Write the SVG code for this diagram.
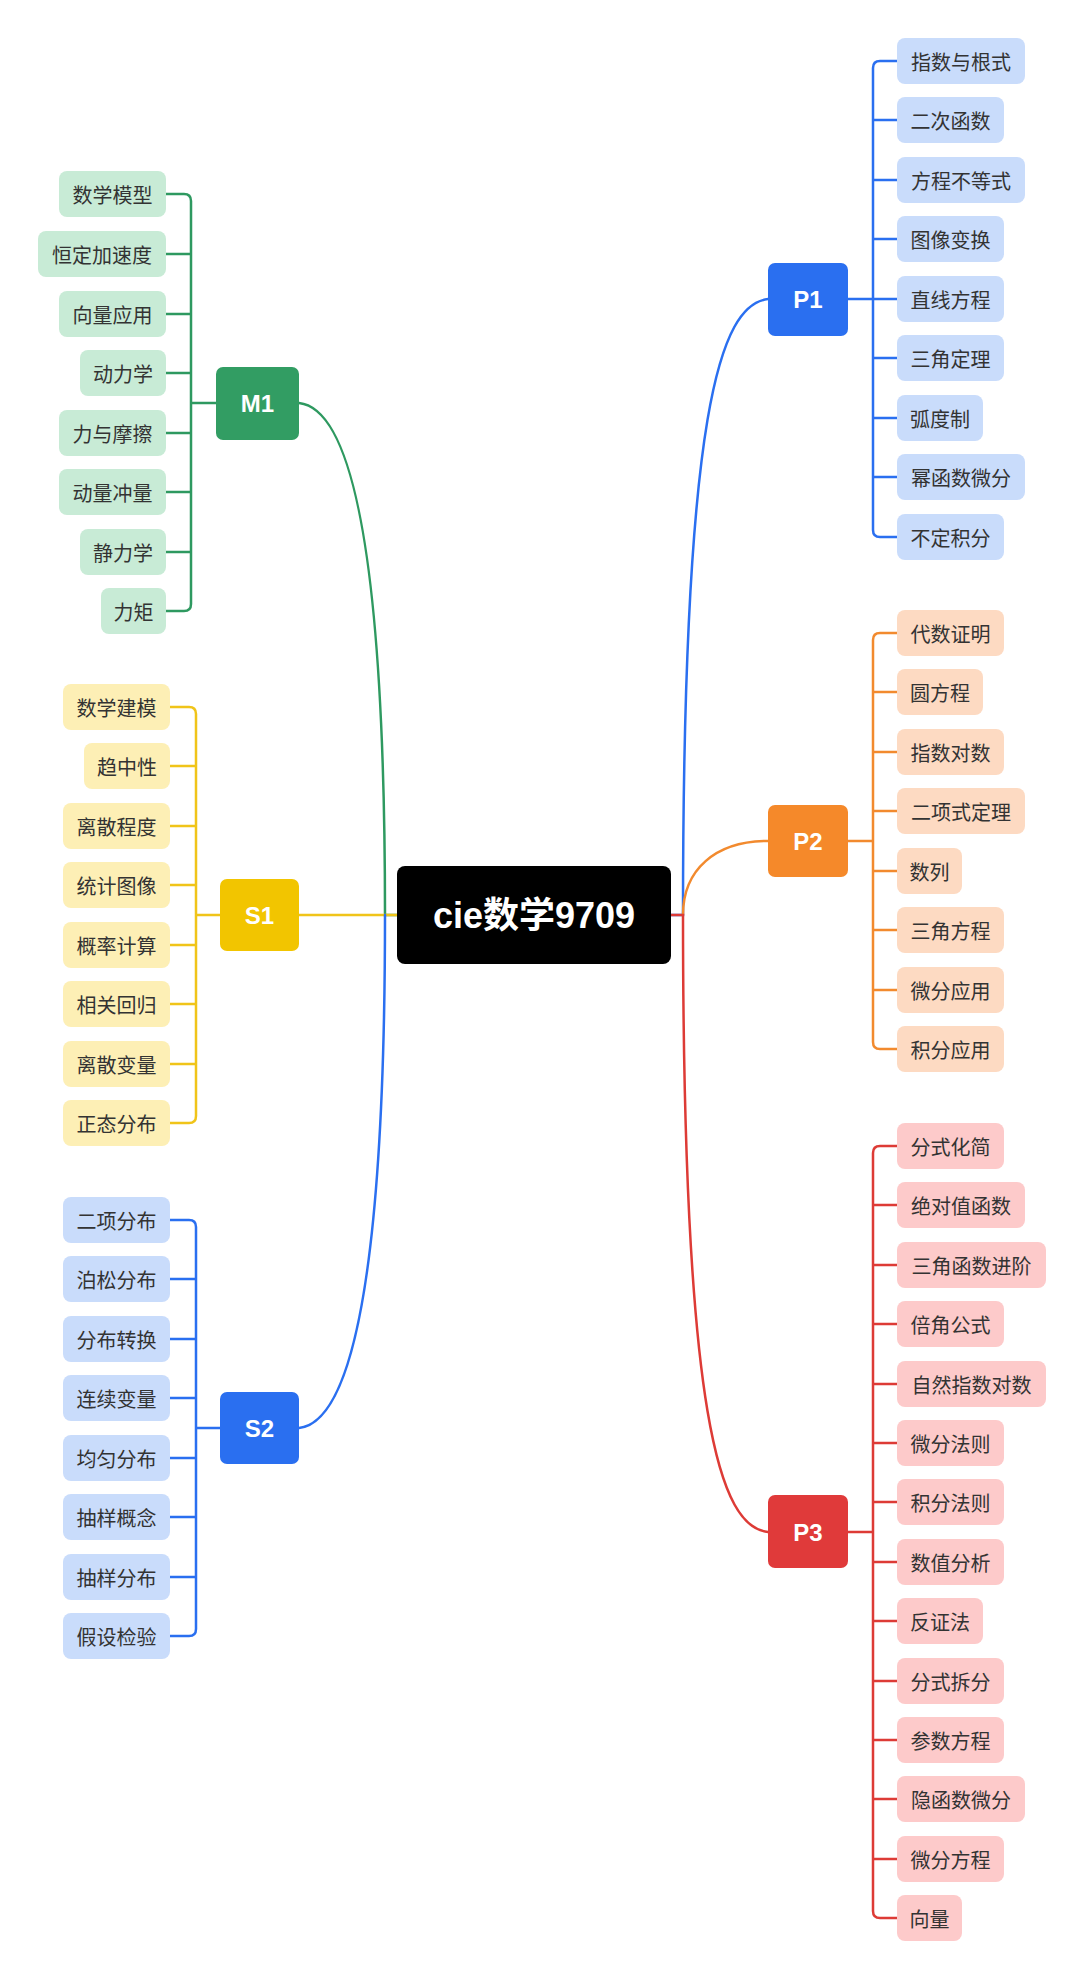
<svg xmlns="http://www.w3.org/2000/svg" width="1080" height="1971" viewBox="0 0 1080 1971">
<style>
.t{font-family:"Noto Sans CJK SC","Noto Sans",sans-serif;font-size:20px;fill:#333;text-anchor:middle;dominant-baseline:central}
.h{font-family:"Liberation Sans","Noto Sans CJK SC",sans-serif;font-size:24px;font-weight:bold;fill:#fff;text-anchor:middle;dominant-baseline:central}
.c{fill:none;stroke-width:2.5;stroke-linecap:round}
.g{stroke:#2e9960}.y{stroke:#f0c419}.b{stroke:#2a6ff0}.o{stroke:#f28a2e}.r{stroke:#dd3b36}
.gf{fill:#c8ebd6}.yf{fill:#fdefb5}.bf{fill:#c9dcfb}.of{fill:#fddac2}.rf{fill:#fdcaca}
</style>
<rect width="1080" height="1971" fill="#fff"/>
<g id="connectors">
<path class="c g" d="M397 915 H385 C385 520 345 408 299 403"/>
<path class="c y" d="M299 915 H397"/>
<path class="c b" d="M385 915 C385 1310 345 1423 299 1428"/>
<path class="c b" d="M671 915 H683 C683 410 720 305 768 299"/>
<path class="c o" d="M683 915 C683 870 715 841 768 841"/>
<path class="c r" d="M671 915 H683 C683 1420 720 1527 768 1532"/>
<path class="c g" d="M216 403 H191 M166 194 H184 Q191 194 191 201 V604 Q191 611 184 611 H166 M166 254 H191 M166 314 H191 M166 373 H191 M166 433 H191 M166 492 H191 M166 552 H191"/>
<path class="c y" d="M220 915 H196 M170 707 H189 Q196 707 196 714 V1116 Q196 1123 189 1123 H170 M170 766 H196 M170 826 H196 M170 885 H196 M170 945 H196 M170 1004 H196 M170 1064 H196"/>
<path class="c b" d="M220 1428 H196 M170 1220 H189 Q196 1220 196 1227 V1629 Q196 1636 189 1636 H170 M170 1279 H196 M170 1339 H196 M170 1398 H196 M170 1458 H196 M170 1517 H196 M170 1577 H196"/>
<path class="c b" d="M848 299 H873 M897 61 H880 Q873 61 873 68 V530 Q873 537 880 537 H897 M897 120 H873 M897 180 H873 M897 239 H873 M897 299 H873 M897 358 H873 M897 418 H873 M897 477 H873"/>
<path class="c o" d="M848 841 H873 M897 633 H880 Q873 633 873 640 V1042 Q873 1049 880 1049 H897 M897 692 H873 M897 752 H873 M897 811 H873 M897 871 H873 M897 930 H873 M897 990 H873"/>
<path class="c r" d="M848 1532 H873 M897 1146 H880 Q873 1146 873 1153 V1911 Q873 1918 880 1918 H897 M897 1205 H873 M897 1265 H873 M897 1324 H873 M897 1384 H873 M897 1443 H873 M897 1502 H873 M897 1562 H873 M897 1621 H873 M897 1681 H873 M897 1740 H873 M897 1799 H873 M897 1859 H873"/>
</g>
<g id="root"><rect x="397" y="866" width="274" height="98" rx="8" fill="#000"/><text class="h" x="534" y="915" style="font-size:36px;font-family:'Liberation Sans','Noto Sans CJK SC',sans-serif">cie数学9709</text></g>
<g id="M1"><rect x="216" y="367" width="83" height="73" rx="7" fill="#329d63"/><text class="h" x="257.5" y="403">M1</text></g>
<g id="S1"><rect x="220" y="879" width="79" height="72" rx="7" fill="#f2c500"/><text class="h" x="259.5" y="915">S1</text></g>
<g id="S2"><rect x="220" y="1392" width="79" height="72" rx="7" fill="#2a6ff0"/><text class="h" x="259.5" y="1428">S2</text></g>
<g id="P1"><rect x="768" y="263" width="80" height="73" rx="7" fill="#2a6ff0"/><text class="h" x="808" y="299">P1</text></g>
<g id="P2"><rect x="768" y="805" width="80" height="72" rx="7" fill="#f5892a"/><text class="h" x="808" y="841">P2</text></g>
<g id="P3"><rect x="768" y="1495" width="80" height="73" rx="7" fill="#e03a3a"/><text class="h" x="808" y="1532">P3</text></g>
<g id="m1c">
<g id="m1-1"><rect class="gf" x="59" y="171" width="107" height="46" rx="8"/><text class="t" x="112.5" y="194">数学模型</text></g>
<g id="m1-2"><rect class="gf" x="38" y="231" width="128" height="46" rx="8"/><text class="t" x="102" y="254">恒定加速度</text></g>
<g id="m1-3"><rect class="gf" x="59" y="291" width="107" height="46" rx="8"/><text class="t" x="112.5" y="314">向量应用</text></g>
<g id="m1-4"><rect class="gf" x="80" y="350" width="86" height="46" rx="8"/><text class="t" x="123" y="373">动力学</text></g>
<g id="m1-5"><rect class="gf" x="59" y="410" width="107" height="46" rx="8"/><text class="t" x="112.5" y="433">力与摩擦</text></g>
<g id="m1-6"><rect class="gf" x="59" y="469" width="107" height="46" rx="8"/><text class="t" x="112.5" y="492">动量冲量</text></g>
<g id="m1-7"><rect class="gf" x="80" y="529" width="86" height="46" rx="8"/><text class="t" x="123" y="552">静力学</text></g>
<g id="m1-8"><rect class="gf" x="101" y="588" width="65" height="46" rx="8"/><text class="t" x="133.5" y="611">力矩</text></g>
</g>
<g id="s1c">
<g id="s1-1"><rect class="yf" x="63" y="684" width="107" height="46" rx="8"/><text class="t" x="116.5" y="707">数学建模</text></g>
<g id="s1-2"><rect class="yf" x="84" y="743" width="86" height="46" rx="8"/><text class="t" x="127" y="766">趋中性</text></g>
<g id="s1-3"><rect class="yf" x="63" y="803" width="107" height="46" rx="8"/><text class="t" x="116.5" y="826">离散程度</text></g>
<g id="s1-4"><rect class="yf" x="63" y="862" width="107" height="46" rx="8"/><text class="t" x="116.5" y="885">统计图像</text></g>
<g id="s1-5"><rect class="yf" x="63" y="922" width="107" height="46" rx="8"/><text class="t" x="116.5" y="945">概率计算</text></g>
<g id="s1-6"><rect class="yf" x="63" y="981" width="107" height="46" rx="8"/><text class="t" x="116.5" y="1004">相关回归</text></g>
<g id="s1-7"><rect class="yf" x="63" y="1041" width="107" height="46" rx="8"/><text class="t" x="116.5" y="1064">离散变量</text></g>
<g id="s1-8"><rect class="yf" x="63" y="1100" width="107" height="46" rx="8"/><text class="t" x="116.5" y="1123">正态分布</text></g>
</g>
<g id="s2c">
<g id="s2-1"><rect class="bf" x="63" y="1197" width="107" height="46" rx="8"/><text class="t" x="116.5" y="1220">二项分布</text></g>
<g id="s2-2"><rect class="bf" x="63" y="1256" width="107" height="46" rx="8"/><text class="t" x="116.5" y="1279">泊松分布</text></g>
<g id="s2-3"><rect class="bf" x="63" y="1316" width="107" height="46" rx="8"/><text class="t" x="116.5" y="1339">分布转换</text></g>
<g id="s2-4"><rect class="bf" x="63" y="1375" width="107" height="46" rx="8"/><text class="t" x="116.5" y="1398">连续变量</text></g>
<g id="s2-5"><rect class="bf" x="63" y="1435" width="107" height="46" rx="8"/><text class="t" x="116.5" y="1458">均匀分布</text></g>
<g id="s2-6"><rect class="bf" x="63" y="1494" width="107" height="46" rx="8"/><text class="t" x="116.5" y="1517">抽样概念</text></g>
<g id="s2-7"><rect class="bf" x="63" y="1554" width="107" height="46" rx="8"/><text class="t" x="116.5" y="1577">抽样分布</text></g>
<g id="s2-8"><rect class="bf" x="63" y="1613" width="107" height="46" rx="8"/><text class="t" x="116.5" y="1636">假设检验</text></g>
</g>
<g id="p1c">
<g id="p1-1"><rect class="bf" x="897" y="38" width="128" height="46" rx="8"/><text class="t" x="961" y="61">指数与根式</text></g>
<g id="p1-2"><rect class="bf" x="897" y="97" width="107" height="46" rx="8"/><text class="t" x="950.5" y="120">二次函数</text></g>
<g id="p1-3"><rect class="bf" x="897" y="157" width="128" height="46" rx="8"/><text class="t" x="961" y="180">方程不等式</text></g>
<g id="p1-4"><rect class="bf" x="897" y="216" width="107" height="46" rx="8"/><text class="t" x="950.5" y="239">图像变换</text></g>
<g id="p1-5"><rect class="bf" x="897" y="276" width="107" height="46" rx="8"/><text class="t" x="950.5" y="299">直线方程</text></g>
<g id="p1-6"><rect class="bf" x="897" y="335" width="107" height="46" rx="8"/><text class="t" x="950.5" y="358">三角定理</text></g>
<g id="p1-7"><rect class="bf" x="897" y="395" width="86" height="46" rx="8"/><text class="t" x="940" y="418">弧度制</text></g>
<g id="p1-8"><rect class="bf" x="897" y="454" width="128" height="46" rx="8"/><text class="t" x="961" y="477">幂函数微分</text></g>
<g id="p1-9"><rect class="bf" x="897" y="514" width="107" height="46" rx="8"/><text class="t" x="950.5" y="537">不定积分</text></g>
</g>
<g id="p2c">
<g id="p2-1"><rect class="of" x="897" y="610" width="107" height="46" rx="8"/><text class="t" x="950.5" y="633">代数证明</text></g>
<g id="p2-2"><rect class="of" x="897" y="669" width="86" height="46" rx="8"/><text class="t" x="940" y="692">圆方程</text></g>
<g id="p2-3"><rect class="of" x="897" y="729" width="107" height="46" rx="8"/><text class="t" x="950.5" y="752">指数对数</text></g>
<g id="p2-4"><rect class="of" x="897" y="788" width="128" height="46" rx="8"/><text class="t" x="961" y="811">二项式定理</text></g>
<g id="p2-5"><rect class="of" x="897" y="848" width="65" height="46" rx="8"/><text class="t" x="929.5" y="871">数列</text></g>
<g id="p2-6"><rect class="of" x="897" y="907" width="107" height="46" rx="8"/><text class="t" x="950.5" y="930">三角方程</text></g>
<g id="p2-7"><rect class="of" x="897" y="967" width="107" height="46" rx="8"/><text class="t" x="950.5" y="990">微分应用</text></g>
<g id="p2-8"><rect class="of" x="897" y="1026" width="107" height="46" rx="8"/><text class="t" x="950.5" y="1049">积分应用</text></g>
</g>
<g id="p3c">
<g id="p3-1"><rect class="rf" x="897" y="1123" width="107" height="46" rx="8"/><text class="t" x="950.5" y="1146">分式化简</text></g>
<g id="p3-2"><rect class="rf" x="897" y="1182" width="128" height="46" rx="8"/><text class="t" x="961" y="1205">绝对值函数</text></g>
<g id="p3-3"><rect class="rf" x="897" y="1242" width="149" height="46" rx="8"/><text class="t" x="971.5" y="1265">三角函数进阶</text></g>
<g id="p3-4"><rect class="rf" x="897" y="1301" width="107" height="46" rx="8"/><text class="t" x="950.5" y="1324">倍角公式</text></g>
<g id="p3-5"><rect class="rf" x="897" y="1361" width="149" height="46" rx="8"/><text class="t" x="971.5" y="1384">自然指数对数</text></g>
<g id="p3-6"><rect class="rf" x="897" y="1420" width="107" height="46" rx="8"/><text class="t" x="950.5" y="1443">微分法则</text></g>
<g id="p3-7"><rect class="rf" x="897" y="1479" width="107" height="46" rx="8"/><text class="t" x="950.5" y="1502">积分法则</text></g>
<g id="p3-8"><rect class="rf" x="897" y="1539" width="107" height="46" rx="8"/><text class="t" x="950.5" y="1562">数值分析</text></g>
<g id="p3-9"><rect class="rf" x="897" y="1598" width="86" height="46" rx="8"/><text class="t" x="940" y="1621">反证法</text></g>
<g id="p3-10"><rect class="rf" x="897" y="1658" width="107" height="46" rx="8"/><text class="t" x="950.5" y="1681">分式拆分</text></g>
<g id="p3-11"><rect class="rf" x="897" y="1717" width="107" height="46" rx="8"/><text class="t" x="950.5" y="1740">参数方程</text></g>
<g id="p3-12"><rect class="rf" x="897" y="1776" width="128" height="46" rx="8"/><text class="t" x="961" y="1799">隐函数微分</text></g>
<g id="p3-13"><rect class="rf" x="897" y="1836" width="107" height="46" rx="8"/><text class="t" x="950.5" y="1859">微分方程</text></g>
<g id="p3-14"><rect class="rf" x="897" y="1895" width="65" height="46" rx="8"/><text class="t" x="929.5" y="1918">向量</text></g>
</g>
</svg>
